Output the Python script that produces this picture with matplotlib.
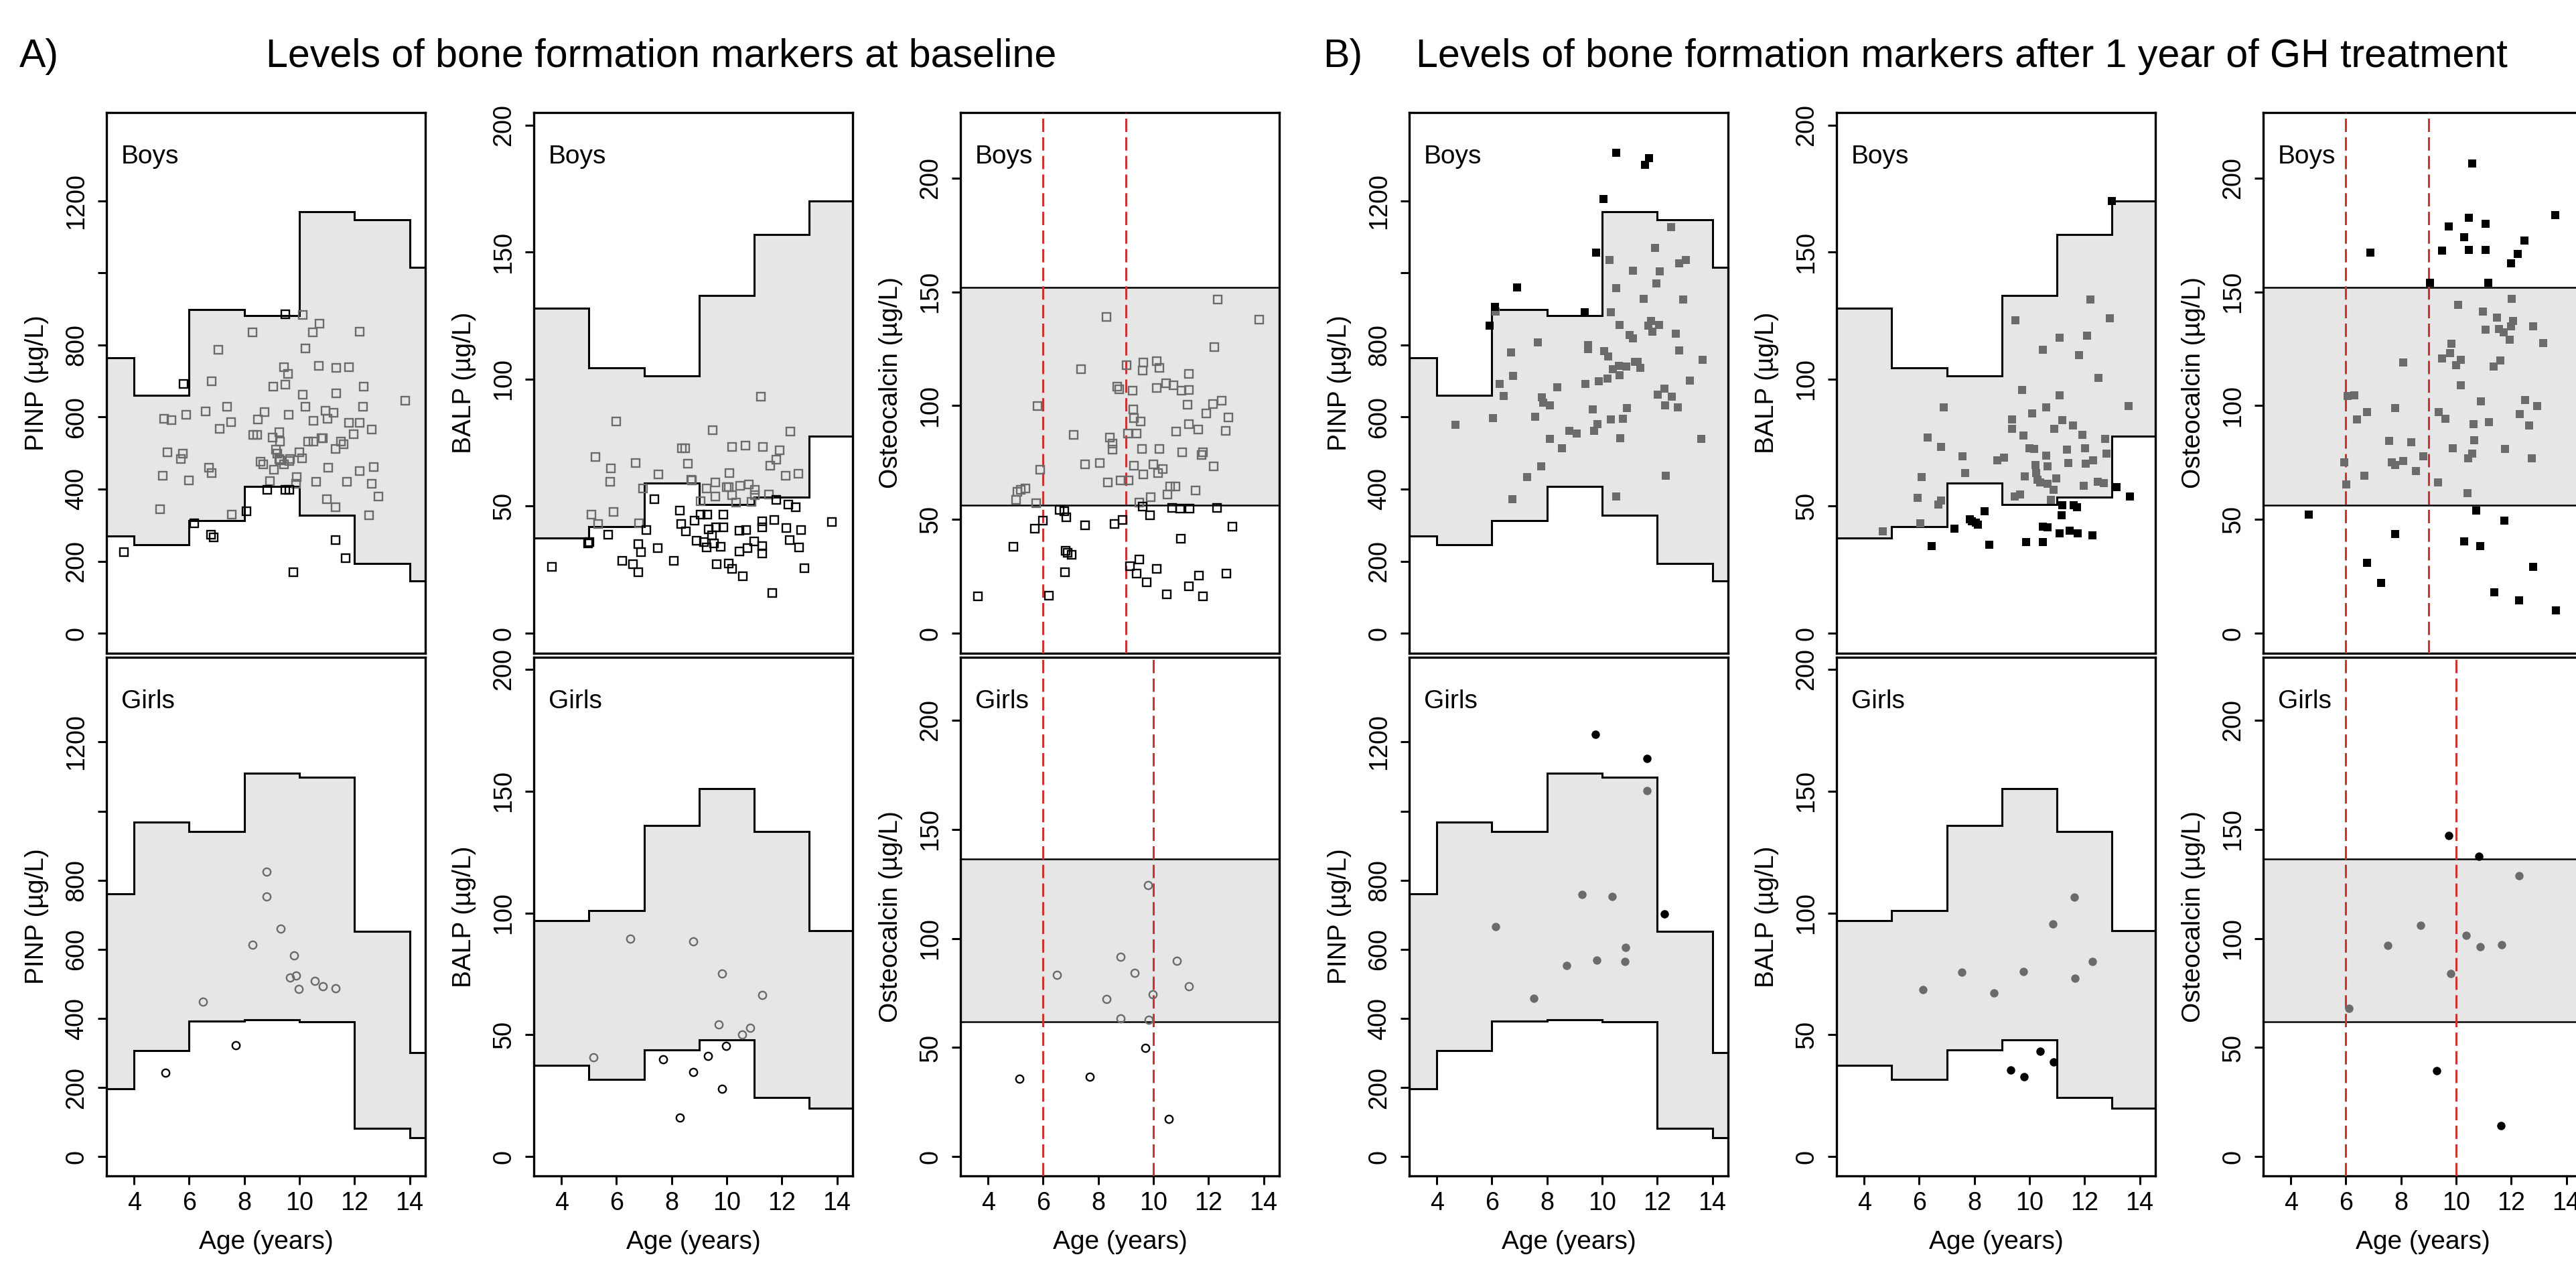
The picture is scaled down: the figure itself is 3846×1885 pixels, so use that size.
import numpy as np
import matplotlib
matplotlib.use("Agg")
import matplotlib.pyplot as plt

plt.rcParams['font.family'] = ['Liberation Sans', 'DejaVu Sans']

# ---------------- reference ranges (age-specific) ----------------
pinp_breaks = [4, 6, 8, 10, 12, 14]
pinp_boys_upper = [765, 660, 898, 882, 1170, 1147, 1015]
pinp_boys_lower = [270, 246, 312, 408, 328, 193, 145]
pinp_girls_upper = [760, 968, 940, 1110, 1097, 652, 301]
pinp_girls_lower = [196, 306, 392, 397, 391, 83, 55]

balp_breaks = [5, 7, 9, 11, 13]
balp_boys_upper = [128, 104.4, 101.4, 133, 157, 170]
balp_boys_lower = [37.5, 42, 59, 50.6, 53.5, 77.6]
balp_girls_upper = [96.8, 101, 136, 150.9, 133.3, 92.7]
balp_girls_lower = [37.5, 31.6, 43.9, 47.8, 24.4, 19.9]

osteo_boys_range = [56.4, 152.0]
osteo_girls_range = [61.8, 136.4]
osteo_boys_cuts = [6, 9]
osteo_girls_cuts = [6, 10]

# ---------------- A) baseline ----------------
a_pinp_boys_age = [3.63, 5.79, 6.19, 6.78, 6.90, 8.07, 8.84, 9.50, 9.50, 9.64, 9.78, 9.89, 11.31, 11.67,
                   4.95, 5.05, 5.22, 5.08, 5.35, 5.71, 5.77, 5.90, 6.00, 6.59, 6.71, 6.81, 6.81, 7.05,
                   7.10, 7.38, 7.52, 7.54, 8.30, 8.33, 8.48, 8.59, 8.69, 8.50, 8.74, 8.92, 9.03, 9.05,
                   9.07, 9.15, 9.19, 9.26, 9.28, 9.30, 9.30, 9.43, 9.43, 9.50, 9.59, 9.60, 9.63, 9.67,
                   9.91, 10.00, 10.10, 10.12, 10.12, 10.21, 10.21, 10.32, 10.50, 10.50, 10.48, 10.73,
                   10.61, 10.70, 10.80, 10.84, 10.95, 11.02, 11.04, 11.00, 11.24, 11.32, 11.32, 11.33,
                   11.33, 11.51, 11.60, 11.73, 11.79, 11.79, 11.96, 12.18, 12.20, 12.18, 12.32, 12.34,
                   12.52, 12.63, 12.63, 12.71, 12.86, 13.85]
a_pinp_boys_val = [225, 692, 305, 274, 267, 339, 398, 886, 398, 398, 170, 414, 258, 208,
                   344, 437, 502, 595, 592, 483, 498, 607, 425, 615, 460, 444, 700, 787,
                   568, 629, 586, 330, 836, 551, 551, 476, 468, 594, 613, 423, 543, 684,
                   454, 509, 498, 483, 558, 532, 480, 468, 738, 690, 720, 606, 478, 483,
                   434, 502, 485, 662, 883, 791, 628, 532, 590, 532, 836, 860,
                   421, 743, 541, 541, 617, 595, 459, 373, 612, 512, 350, 736,
                   665, 532, 524, 421, 738, 584, 553, 584, 837, 451, 629, 685,
                   328, 415, 566, 462, 380, 645]

a_balp_boys_age = [3.66, 4.96, 5.02, 5.70, 6.20, 6.59, 6.80, 6.80, 6.90, 7.08, 7.38, 7.50, 8.07, 8.29,
                   8.35, 8.51, 8.83, 8.90, 9.06, 9.17, 9.30, 9.28, 9.35, 9.47, 9.53, 9.61, 9.64, 9.77,
                   9.89, 9.89, 10.08, 10.19, 10.46, 10.47, 10.71, 10.58, 10.76, 11.00, 11.28, 11.30,
                   11.30, 11.30, 11.65, 11.72, 11.79, 12.17, 12.23, 12.29, 12.50, 12.62, 12.70, 12.83,
                   13.82,
                   5.34, 6.82, 9.06, 5.09, 5.23, 5.80, 5.76, 5.90, 6.00, 6.70, 6.97, 7.53, 8.38, 8.50,
                   8.59, 8.70, 8.74, 9.26, 9.50, 9.59, 9.59, 9.99, 10.10, 10.08, 10.20, 10.33, 10.19,
                   10.48, 10.68, 10.80, 10.89, 11.02, 11.02, 11.23, 11.31, 11.52, 11.59, 11.80, 11.92,
                   12.15, 12.32, 12.61]
a_balp_boys_val = [26.0, 35.4, 35.8, 38.7, 28.6, 27.3, 23.9, 35.1, 31.9, 40.6, 52.8, 33.4, 28.5, 48.2,
                   43.1, 40.2, 44.3, 36.5, 46.8, 35.8, 46.8, 33.7, 40.9, 38.5, 35.4, 41.6, 27.2, 34.1,
                   41.7, 46.8, 27.5, 25.4, 32.3, 40.3, 40.6, 22.4, 33.6, 36.2, 44.1, 41.7,
                   34.4, 31.4, 15.9, 44.6, 52.6, 41.3, 50.6, 36.7, 49.6, 33.8, 40.6, 25.7,
                   43.9,
                   43.0, 43.2, 52.0, 46.8, 69.3, 64.8, 59.7, 47.8, 83.4, 66.9, 56.9, 62.6, 72.7, 72.7,
                   66.7, 60.5, 60.2, 56.9, 80.0, 59.3, 53.7, 57.5, 63.0, 57.6, 54.4, 51.5, 73.3,
                   58.1, 73.8, 58.6, 51.7, 56.5, 54.4, 93.1, 73.3, 54.7, 65.9, 68.2, 72.1,
                   62.0, 79.3, 62.7]

a_osteo_boys_age = [3.63, 4.93, 5.69, 5.99, 6.20, 6.60, 6.77, 6.83, 6.82, 6.90, 7.03, 6.80, 7.51, 8.59,
                    8.89, 9.15, 9.48, 9.40, 9.76, 9.88, 10.11, 10.49, 10.67, 10.97, 11.00, 11.31, 11.30,
                    11.65, 11.81, 12.31, 12.64, 12.88, 9.61,
                    5.01, 5.06, 5.19, 5.35, 5.74, 5.79, 5.89, 7.10, 7.38, 7.53, 8.06, 8.29, 8.41, 8.51,
                    8.51, 8.34, 8.69, 8.76, 8.82, 9.04, 9.08, 9.10, 9.24, 9.28, 9.29, 9.54, 9.30, 9.40,
                    9.58, 9.63, 9.60, 9.63, 9.48, 9.90, 10.00, 10.11, 10.11, 10.18, 10.21, 10.21, 10.35,
                    10.47, 10.50, 10.60, 10.72, 10.80, 10.82, 11.02, 11.05, 11.30, 11.29, 11.23, 11.30,
                    11.53, 11.62, 11.74, 11.79, 11.93, 12.16, 12.19, 12.21, 12.33, 12.49, 12.62, 12.72,
                    13.85]
a_osteo_boys_val = [16.1, 38.0, 45.9, 49.5, 16.5, 54.1, 53.6, 51.0, 36.2, 35.4, 34.6, 26.9, 47.4, 48.1,
                    49.8, 29.4, 32.3, 26.1, 22.3, 51.8, 28.4, 17.2, 55.2, 54.9, 41.6, 54.9, 20.7,
                    25.3, 16.1, 55.2, 26.1, 46.7, 55.6,
                    58.7, 62.1, 62.9, 63.7, 57.2, 99.8, 72.0, 87.3, 116.1, 74.3, 74.8, 139.1, 86.1, 83.3,
                    80.7, 66.3, 108.5, 107.3, 67.2, 117.8, 87.9, 67.2, 106.6, 98.5, 94.6, 93.0, 73.7, 87.9,
                    81.1, 119.0, 115.5, 69.9, 57.5, 59.8, 74.2, 119.6, 107.7, 70.5, 116.7, 81.1, 72.2,
                    110.0, 61.1, 64.5, 109.0, 64.5, 88.7, 106.6, 79.6, 107.0, 113.9, 100.3, 92.0,
                    62.6, 89.6, 78.4, 79.6, 96.6, 100.6, 73.4, 125.8, 146.7, 102.3, 89.0, 94.9,
                    137.9]

a_pinp_girls_age = [5.15, 6.49, 7.69, 8.31, 8.81, 8.81, 9.32, 9.67, 9.81, 9.88, 9.98, 10.56, 10.84, 11.31]
a_pinp_girls_val = [243, 449, 322, 613, 824, 752, 660, 518, 582, 525, 485, 508, 494, 488]
a_balp_girls_age = [5.17, 6.50, 7.70, 8.29, 8.79, 8.79, 9.33, 9.70, 9.82, 9.82, 9.97, 10.56, 10.84, 11.29]
a_balp_girls_val = [40.7, 89.5, 39.9, 15.9, 88.4, 34.6, 41.3, 54.2, 75.1, 27.8, 45.5, 50.2, 52.8, 66.2]
a_osteo_girls_age = [5.14, 6.49, 7.69, 8.29, 8.81, 8.81, 9.33, 9.70, 9.81, 9.84, 9.97, 10.57, 10.85, 11.30]
a_osteo_girls_val = [35.6, 83.2, 36.7, 72.1, 91.7, 63.2, 84.1, 49.9, 124.3, 62.7, 74.3, 17.3, 89.6, 78.0]

# ---------------- B) after 1 year of GH ----------------
b_pinp_boys_age = [5.92, 6.12, 6.91, 9.38, 9.77, 10.04, 10.51, 11.55, 11.70,
                   4.67, 6.03, 6.14, 6.29, 6.43, 6.70, 6.77, 6.75, 7.28, 7.58, 7.67, 7.80, 7.82, 7.87,
                   8.11, 8.11, 8.37, 8.55, 8.81, 9.07, 9.40, 9.50, 9.50, 9.65, 9.70, 9.82, 9.89, 10.08,
                   10.21, 10.19, 10.26, 10.31, 10.31, 10.40, 10.52, 10.52, 10.60, 10.63, 10.63, 10.65,
                   10.76, 10.87, 10.91, 10.99, 11.11, 11.13, 11.18, 11.28, 11.38, 11.50, 11.67, 11.77,
                   11.82, 11.93, 11.98, 12.08, 12.01, 12.06, 12.26, 12.29, 12.32, 12.50, 12.52, 12.67,
                   12.74, 12.79, 12.79, 13.04, 12.94, 13.18, 13.64, 13.59]
b_pinp_boys_val = [853, 905, 960, 890, 1057, 1205, 1334, 1300, 1318,
                   578, 598, 893, 691, 659, 780, 714, 372, 433, 601, 807, 463, 654, 639,
                   633, 540, 683, 513, 562, 554, 691, 800, 788, 622, 562, 581, 700, 783,
                   769, 706, 1036, 890, 593, 732, 958, 380, 743, 856, 717, 542,
                   596, 741, 625, 827, 1006, 819, 754, 753, 737, 928, 853, 866,
                   837, 1070, 970, 1004, 662, 856, 678, 632, 437, 1127, 656, 831,
                   627, 785, 1026, 1036, 926, 701, 759, 540]

b_balp_boys_age = [6.44, 7.28, 7.83, 7.92, 8.05, 8.12, 8.37, 8.54, 9.89, 10.49, 10.49, 10.65, 11.10,
                   11.17, 11.18, 11.45, 11.60, 11.72, 11.74, 12.29, 13.15, 13.64, 12.98,
                   4.68, 5.95, 6.09, 6.04, 6.30, 6.69, 6.78, 6.79, 6.90, 7.58, 7.67, 8.83, 9.08, 9.37,
                   9.37, 9.49, 9.46, 9.66, 9.74, 9.78, 9.83, 10.01, 10.10, 10.17, 10.22, 10.24, 10.28,
                   10.40, 10.48, 10.60, 10.60, 10.65, 10.65, 10.77, 10.88, 10.90, 10.97, 11.10, 11.10,
                   11.19, 11.36, 11.40, 11.58, 11.80, 11.92, 11.98, 12.01, 12.03, 12.09, 12.22, 12.31,
                   12.50, 12.47, 12.70, 12.74, 12.79, 12.92, 13.60]
b_balp_boys_val = [34.3, 41.2, 44.9, 44.0, 43.5, 42.8, 47.9, 34.8, 35.8, 35.9, 41.9, 41.6, 39.4,
                   46.3, 50.4, 40.3, 50.4, 49.7, 39.4, 38.4, 57.6, 53.9, 170.2,
                   40.1, 53.2, 61.5, 43.3, 76.9, 50.7, 52.2, 73.2, 88.8, 69.5, 63.1, 68.1, 69.1, 84.0,
                   80.5, 123.2, 53.9, 54.6, 95.6, 77.8, 61.7, 72.8, 86.6, 72.5, 66.3, 63.1, 60.4,
                   59.4, 111.5, 88.8, 70.0, 65.6, 58.7, 52.5, 56.4, 80.5, 61.0, 116.4, 93.5,
                   83.8, 72.2, 67.0, 81.8, 109.4, 78.0, 58.0, 72.8, 66.7, 117.1, 131.2, 68.0,
                   100.4, 59.7, 59.1, 76.4, 70.7, 124.0, 89.4]

b_osteo_boys_age = [4.66, 6.76, 7.27, 7.79, 6.88, 9.06, 9.48, 9.74, 10.30, 10.47, 10.47, 10.59, 11.08,
                    11.08, 11.17, 11.99, 12.23, 12.48, 13.59, 10.29, 10.74, 10.87, 11.39, 11.74, 12.28,
                    12.79, 13.63,
                    5.94, 6.02, 6.06, 6.30, 6.40, 6.67, 6.77, 7.58, 7.67, 7.80, 7.80, 8.09, 8.09, 8.37,
                    8.53, 8.82, 9.35, 9.37, 9.48, 9.62, 9.77, 9.84, 9.89, 10.00, 10.18, 10.08, 10.18,
                    10.42, 10.45, 10.59, 10.63, 10.66, 10.90, 10.98, 11.08, 11.19, 11.37, 11.48, 11.56,
                    11.61, 11.73, 11.77, 11.95, 12.02, 12.06, 12.00, 12.32, 12.50, 12.64, 12.74, 12.79,
                    12.94, 13.15]
b_osteo_boys_val = [52.2, 30.9, 22.1, 43.7, 167.4, 154.0, 168.2, 178.7, 173.9, 182.5, 168.5, 206.5, 179.8,
                    168.5, 154.0, 162.7, 166.6, 172.6, 183.9, 40.3, 53.8, 38.3, 17.9, 49.5, 14.4,
                    29.1, 10.0,
                    75.1, 65.4, 104.3, 104.5, 94.0, 69.2, 97.2, 84.4, 75.1, 73.9, 99.1, 119.0, 75.7, 83.9,
                    71.3, 77.7, 66.2, 97.1, 120.7, 94.3, 123.0, 127.2, 81.3, 117.9, 120.2, 144.2, 109.0,
                    61.5, 77.0, 78.8, 92.0, 84.7, 102.0, 141.4, 133.4, 92.9, 117.2, 138.8, 133.8,
                    119.8, 132.1, 81.1, 129.1, 147.0, 137.2, 134.9, 96.3, 102.5, 91.3, 77.0, 134.9,
                    99.7, 127.5]

b_pinp_girls_age = [6.13, 7.53, 8.70, 9.28, 9.75, 9.80, 10.37, 10.82, 10.86, 11.62, 11.64, 12.27]
b_pinp_girls_val = [666, 459, 553, 759, 1223, 569, 753, 564, 605, 1060, 1153, 702]
b_balp_girls_age = [6.13, 7.55, 8.72, 9.32, 9.77, 9.81, 10.38, 10.84, 10.88, 11.63, 11.65, 12.29]
b_balp_girls_val = [68.6, 75.6, 67.1, 35.6, 75.9, 32.9, 43.3, 95.6, 38.8, 106.6, 73.2, 80.2]
b_osteo_girls_age = [6.12, 7.53, 8.70, 9.29, 9.74, 9.80, 10.37, 10.83, 10.88, 11.62, 11.65, 12.29]
b_osteo_girls_val = [68.0, 96.7, 106.0, 39.5, 147.1, 83.9, 101.3, 137.7, 96.3, 14.2, 97.1, 128.8]

# ---------------- text ----------------
title_a = "Levels of bone formation markers at baseline"
title_b = "Levels of bone formation markers after 1 year of GH treatment"
x_ticks = [4, 6, 8, 10, 12, 14]

# ---------------- styling / layout ----------------
W, H = 3846, 1885
DPI = 200
GREY = '#6b6b6b'
FILL = '#e6e6e6'
RED = '#cc3333'
FS_TICK = 13.6
FS_LAB = 14.0

fig = plt.figure(figsize=(W / DPI, H / DPI), dpi=DPI)
fig.patch.set_facecolor('white')

col_left = [159, 797, 1434, 2104, 2742, 3379]
panel_w = 476
rows = [(168, 975), (981, 1755)]

marker_cfg = {
    'pinp': dict(ylim=(-55.6, 1445), ticks=[0, 200, 400, 600, 800, 1000, 1200],
                 labels=['0', '200', '400', '600', '800', '', '1200'], ylabel='PINP (µg/L)'),
    'balp': dict(ylim=(-7.9, 204.9), ticks=[0, 50, 100, 150, 200],
                 labels=['0', '50', '100', '150', '200'], ylabel='BALP (µg/L)'),
    'osteo': dict(ylim=(-8.8, 228.8), ticks=[0, 50, 100, 150, 200],
                  labels=['0', '50', '100', '150', '200'], ylabel='Osteocalcin (µg/L)'),
}

refs = {
    ('pinp', 'Boys'): (pinp_breaks, pinp_boys_lower, pinp_boys_upper),
    ('pinp', 'Girls'): (pinp_breaks, pinp_girls_lower, pinp_girls_upper),
    ('balp', 'Boys'): (balp_breaks, balp_boys_lower, balp_boys_upper),
    ('balp', 'Girls'): (balp_breaks, balp_girls_lower, balp_girls_upper),
    ('osteo', 'Boys'): ([], [osteo_boys_range[0]], [osteo_boys_range[1]]),
    ('osteo', 'Girls'): ([], [osteo_girls_range[0]], [osteo_girls_range[1]]),
}
cuts = {'Boys': osteo_boys_cuts, 'Girls': osteo_girls_cuts}


def classify(ages, vals, breaks, lower, upper):
    idx = np.searchsorted(np.asarray(breaks, dtype=float), ages, side='right')
    lo = np.asarray(lower, dtype=float)[idx]
    hi = np.asarray(upper, dtype=float)[idx]
    return (vals >= lo) & (vals <= hi)


def panel(col, row, kind, sex, ages, vals, filled):
    top, bottom = rows[row]
    ax = fig.add_axes([col_left[col] / W, 1 - bottom / H, panel_w / W, (bottom - top) / H])
    cfg = marker_cfg[kind]
    breaks, lower, upper = refs[(kind, sex)]

    if kind == 'osteo':
        ax.axhspan(lower[0], upper[0], color=FILL, lw=0, zorder=1)
        ax.axhline(lower[0], color='black', lw=0.9, zorder=2)
        ax.axhline(upper[0], color='black', lw=0.9, zorder=2)
        for c in cuts[sex]:
            ax.axvline(c, color=RED, lw=1.1, ls=(0, (6.5, 2.6)), zorder=3)
    else:
        edges = [0.0] + list(breaks) + [20.0]
        ax.stairs(upper, edges, baseline=lower, fill=True, color=FILL, lw=0, zorder=1)
        ax.stairs(upper, edges, baseline=None, color='black', lw=1.1, zorder=2)
        ax.stairs(lower, edges, baseline=None, color='black', lw=1.1, zorder=2)

    ages = np.asarray(ages, dtype=float)
    vals = np.asarray(vals, dtype=float)
    inside = classify(ages, vals, breaks, lower, upper)
    mk = 's' if sex == 'Boys' else 'o'
    for mask, c in ((inside, GREY), (~inside, 'black')):
        if filled:
            ms = 4.6 if mk == 's' else 4.5
            ax.plot(ages[mask], vals[mask], ls='none', marker=mk, ms=ms,
                    mfc=c, mec=c, mew=0, zorder=4)
        else:
            ms = 4.3 if mk == 's' else 4.1
            ax.plot(ages[mask], vals[mask], ls='none', marker=mk, ms=ms,
                    mfc='none', mec=c, mew=0.85, zorder=4)

    ax.set_xlim(3.0, 14.57)
    ax.set_ylim(*cfg['ylim'])
    ax.set_yticks(cfg['ticks'])
    ax.set_yticklabels(cfg['labels'], rotation=90, va='center')
    for s in ax.spines.values():
        s.set_linewidth(1.2)
    ax.tick_params(axis='y', direction='out', length=4.7, width=1.1, labelsize=FS_TICK, pad=5.0)
    if row == 1:
        ax.set_xticks(x_ticks)
        ax.set_xticklabels([str(t) for t in x_ticks])
        ax.tick_params(axis='x', direction='out', length=4.7, width=1.1, labelsize=FS_TICK, pad=3.5)
        ax.set_xlabel('Age (years)', fontsize=FS_LAB)
        ax.xaxis.set_label_coords(0.5, -0.105)
    else:
        ax.set_xticks([])
    ax.set_ylabel(cfg['ylabel'], fontsize=FS_LAB)
    ax.yaxis.set_label_coords(-0.18, 0.5)
    ax.text(0.046, 0.918 if row == 0 else 0.915, sex, transform=ax.transAxes,
            fontsize=FS_LAB, ha='left', va='center', zorder=5)
    return ax


panel(0, 0, 'pinp', 'Boys', a_pinp_boys_age, a_pinp_boys_val, False)
panel(1, 0, 'balp', 'Boys', a_balp_boys_age, a_balp_boys_val, False)
panel(2, 0, 'osteo', 'Boys', a_osteo_boys_age, a_osteo_boys_val, False)
panel(0, 1, 'pinp', 'Girls', a_pinp_girls_age, a_pinp_girls_val, False)
panel(1, 1, 'balp', 'Girls', a_balp_girls_age, a_balp_girls_val, False)
panel(2, 1, 'osteo', 'Girls', a_osteo_girls_age, a_osteo_girls_val, False)

panel(3, 0, 'pinp', 'Boys', b_pinp_boys_age, b_pinp_boys_val, True)
panel(4, 0, 'balp', 'Boys', b_balp_boys_age, b_balp_boys_val, True)
panel(5, 0, 'osteo', 'Boys', b_osteo_boys_age, b_osteo_boys_val, True)
panel(3, 1, 'pinp', 'Girls', b_pinp_girls_age, b_pinp_girls_val, True)
panel(4, 1, 'balp', 'Girls', b_balp_girls_age, b_balp_girls_val, True)
panel(5, 1, 'osteo', 'Girls', b_osteo_girls_age, b_osteo_girls_val, True)

FS_TITLE = 21.3
ty = 1 - 84 / H
fig.text(29 / W, ty, 'A)', fontsize=FS_TITLE, ha='left', va='center')
fig.text(397 / W, ty, title_a, fontsize=FS_TITLE, ha='left', va='center')
fig.text(1975 / W, ty, 'B)', fontsize=FS_TITLE, ha='left', va='center')
fig.text(2114 / W, ty, title_b, fontsize=FS_TITLE, ha='left', va='center')

fig.savefig('out.png', dpi=DPI, facecolor='white')
